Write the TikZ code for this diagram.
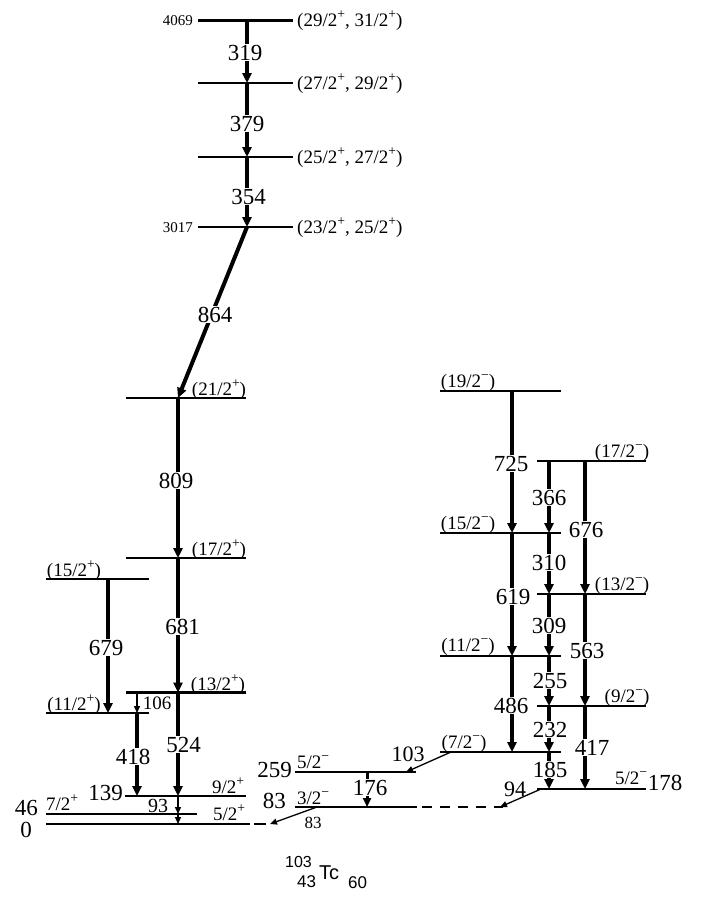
\documentclass[tikz,border=0pt]{standalone}
\usepackage{fontspec}
\usepackage{graphicx}
\setmainfont{Liberation Serif}
\newfontfamily\sansf{Liberation Sans}
\usetikzlibrary{arrows.meta}
\newcommand\sgp{\raisebox{0.42em}{\scalebox{0.72}{+}}}
\newcommand\sgm{\raisebox{0.42em}{\scalebox{0.72}{−}}}
\begin{document}
\begin{tikzpicture}[x=1pt,y=-1pt,
  lvl/.style={line width=2.8pt},
  gbig/.style={line width=4pt,-{Triangle[length=10pt,width=9pt]}},
  gmid/.style={line width=3pt,-{Triangle[length=9pt,width=8pt]}},
  gthin/.style={line width=1.3pt,-{Triangle[length=7pt,width=6pt]}},
  tl/.style={fill=white,inner sep=1pt,anchor=base,font=\fontsize{23}{23}\selectfont},
  el/.style={inner sep=0pt,anchor=base,font=\fontsize{23}{23}\selectfont},
  sp/.style={inner sep=0pt,anchor=base,font=\fontsize{19}{19}\selectfont},
  small/.style={inner sep=0pt,anchor=base,font=\fontsize{15}{15}\selectfont},
]
\useasboundingbox (0,0) rectangle (707,903);
% level heights
\coordinate (L4069) at (0,20.5);
\coordinate (L27p) at (0,83);
\coordinate (L25p) at (0,157);
\coordinate (L3017) at (0,227);
\coordinate (L21p) at (0,398);
\coordinate (L17p) at (0,558);
\coordinate (L15p) at (0,579);
\coordinate (L13p) at (0,692.5);
\coordinate (L11p) at (0,713);
\coordinate (L139) at (0,796);
\coordinate (L46) at (0,814);
\coordinate (L0) at (0,824);
\coordinate (L259) at (0,772);
\coordinate (L83) at (0,807);
\coordinate (L19m) at (0,391);
\coordinate (L17m) at (0,461);
\coordinate (L15m) at (0,533);
\coordinate (L13m) at (0,594);
\coordinate (L11m) at (0,656);
\coordinate (L9m) at (0,706);
\coordinate (L7m) at (0,752);
\coordinate (L178) at (0,789);
% columns
\coordinate (xT) at (247,0);
\coordinate (xL) at (178,0);
\coordinate (xM) at (108,0);
\coordinate (xN) at (137,0);
\coordinate (xA) at (512,0);
\coordinate (xB) at (549,0);
\coordinate (xC) at (585,0);
\coordinate (xD) at (367,0);
% diagonal end points
\coordinate (a103) at (451,752);
\coordinate (b103) at (406,772);
\coordinate (a83) at (317,807);
\coordinate (b83) at (270,824);
\coordinate (a94) at (541,789);
\coordinate (b94) at (500,807);

% ---- levels ----
\draw[lvl] (198,20.5) -- (293,20.5);
\draw[lvl] (198,83) -- (293,83);
\draw[lvl] (198,157) -- (293,157);
\draw[lvl] (198,227) -- (293,227);
\draw[lvl] (126,398) -- (246,398);
\draw[lvl] (126,558) -- (246,558);
\draw[lvl] (46,579) -- (149,579);
\draw[lvl] (126,692.5) -- (246,692.5);
\draw[lvl] (46,713) -- (149,713);
\draw[lvl] (125,796) -- (246,796);
\draw[lvl] (46,814) -- (197,814);
\draw[lvl] (46,824) -- (250,824);
\draw[lvl] (254,824) -- (266,824);
\draw[lvl] (295,772) -- (416,772);
\draw[lvl] (295,807) -- (417,807);
\draw[lvl,dash pattern=on 10pt off 8pt] (422,807) -- (503,807);
\draw[lvl] (440,391) -- (561,391);
\draw[lvl] (440,533) -- (561,533);
\draw[lvl] (440,656) -- (561,656);
\draw[lvl] (440,752) -- (561,752);
\draw[lvl] (537,461) -- (646,461);
\draw[lvl] (537,594) -- (646,594);
\draw[lvl] (537,706) -- (646,706);
\draw[lvl] (537,789) -- (646,789);

% ---- level labels ----
\node[small,anchor=base east] (e4069) at (193,25.5) {4069};
\node[small,anchor=base east] (e3017) at (193,232.5) {3017};
\node[sp,anchor=base west] (s4069) at (297,26.5) {(29/2\sgp, 31/2\sgp)};
\node[sp,anchor=base west] (s27) at (297,89) {(27/2\sgp, 29/2\sgp)};
\node[sp,anchor=base west] (s25) at (297,163) {(25/2\sgp, 27/2\sgp)};
\node[sp,anchor=base west] (s23) at (297,233) {(23/2\sgp, 25/2\sgp)};
\node[sp] (s21) at (219,395.5) {(21/2\sgp)};
\node[sp] (s17) at (219,555.5) {(17/2\sgp)};
\node[sp] (s15) at (74,576.5) {(15/2\sgp)};
\node[sp] (s13) at (218,690) {(13/2\sgp)};
\node[sp] (s11) at (74,710.5) {(11/2\sgp)};
\node[el,anchor=base east] (e139) at (123,800) {139};
\node[sp] (s9) at (228,793) {9/2\sgp};
\node[el,anchor=base east] (e46) at (38,815) {46};
\node[sp] (s7) at (62,810) {7/2\sgp};
\node[el,anchor=base east] (e0) at (32,837) {0};
\node[sp] (s5) at (229,820) {5/2\sgp};
\node[el,anchor=base east] (e259) at (292,777) {259};
\node[sp,anchor=base west] (s259) at (297,768) {5/2\sgm};
\node[el,anchor=base east] (e83) at (286,808) {83};
\node[sp,anchor=base west] (s83) at (297,804) {3/2\sgm};
\node[sp] (s19m) at (468,387) {(19/2\sgm)};
\node[sp] (s17m) at (622,457) {(17/2\sgm)};
\node[sp] (s15m) at (468,529) {(15/2\sgm)};
\node[sp] (s13m) at (622,590) {(13/2\sgm)};
\node[sp] (s11m) at (468,651) {(11/2\sgm)};
\node[sp] (s9m) at (627,702) {(9/2\sgm)};
\node[sp] (s7m) at (464,748) {(7/2\sgm)};
\node[sp] (s178) at (631,784) {5/2\sgm};
\node[el] (e178) at (665,790) {178};

% ---- transitions ----
\draw[gbig] (xT|-L4069) -- (xT|-L27p);
\node[tl] (t319) at (245,60) {319};
\draw[gbig] (xT|-L27p) -- (xT|-L25p);
\node[tl] (t379) at (247,131) {379};
\draw[gbig] (xT|-L25p) -- (xT|-L3017);
\node[tl] (t354) at (248.5,204) {354};
\draw[gbig] (xT|-L3017) -- (xL|-L21p);
\node[tl] (t864) at (215,322) {864};
\draw[gbig] (xL|-L21p) -- (xL|-L17p);
\node[tl] (t809) at (176,488) {809};
\draw[gbig] (xL|-L17p) -- (xL|-L13p);
\node[tl] (t681) at (182.5,634) {681};
\draw[gbig] (xL|-L13p) -- (xL|-L139);
\node[tl] (t524) at (183.5,752) {524};
\draw[gbig] (xM|-L15p) -- (xM|-L11p);
\node[tl] (t679) at (106,655) {679};
\draw[gbig] (xN|-L11p) -- (xN|-L139);
\node[tl] (t418) at (133,764) {418};
\draw[gthin] (xN|-L13p) -- (xN|-L11p);
\node[sp] (t106) at (157,709) {106};
\draw[gthin] (xL|-L139) -- (xL|-L46);
\node[el,font=\fontsize{20}{20}\selectfont] (t93) at (158,812) {93};
\draw[gthin] (xL|-L46) -- (xL|-L0);

\draw[gmid] (xD|-L259) -- (xD|-L83);
\node[tl] (t176) at (370,795) {176};
\draw[gthin] (a103) -- (b103);
\node[el,font=\fontsize{22}{22}\selectfont] (t103) at (408,761) {103};
\draw[gthin] (a83) -- (b83);
\node[el,font=\fontsize{17}{17}\selectfont] (t83) at (313,828) {83};
\draw[gthin] (a94) -- (b94);
\node[el,font=\fontsize{22}{22}\selectfont] (t94) at (515,796) {94};

\draw[gbig] (xA|-L19m) -- (xA|-L15m);
\node[tl] (t725) at (511,471) {725};
\draw[gbig] (xA|-L15m) -- (xA|-L11m);
\node[tl] (t619) at (513,604) {619};
\draw[gbig] (xA|-L11m) -- (xA|-L7m);
\node[tl] (t486) at (511,713) {486};

\draw[gbig] (xB|-L17m) -- (xB|-L15m);
\node[tl] (t366) at (549,505) {366};
\draw[gbig] (xB|-L15m) -- (xB|-L13m);
\node[tl] (t310) at (549,570) {310};
\draw[gbig] (xB|-L13m) -- (xB|-L11m);
\node[tl] (t309) at (549,633) {309};
\draw[gbig] (xB|-L11m) -- (xB|-L9m);
\node[tl] (t255) at (550,688) {255};
\draw[gbig] (xB|-L9m) -- (xB|-L7m);
\node[tl] (t232) at (550,737) {232};
\draw[gbig] (xB|-L7m) -- (xB|-L178);
\node[tl] (t185) at (550,777) {185};

\draw[gbig] (xC|-L17m) -- (xC|-L13m);
\node[tl] (t676) at (586,537) {676};
\draw[gbig] (xC|-L13m) -- (xC|-L9m);
\node[tl] (t563) at (587,658) {563};
\draw[gbig] (xC|-L9m) -- (xC|-L178);
\node[tl] (t417) at (592,755) {417};

% ---- nucleus ----
\node[inner sep=0pt,anchor=base west,font=\sansf\fontsize{16}{16}\selectfont] (n103) at (285,867) {103};
\node[inner sep=0pt,anchor=base west,font=\sansf\fontsize{17}{17}\selectfont] (n43) at (297,887) {43};
\node[inner sep=0pt,anchor=base west,font=\sansf\fontsize{20}{20}\selectfont] (nTc) at (319,879) {Tc};
\node[inner sep=0pt,anchor=base west,font=\sansf\fontsize{17}{17}\selectfont] (n60) at (348,888) {60};
\end{tikzpicture}
\end{document}
